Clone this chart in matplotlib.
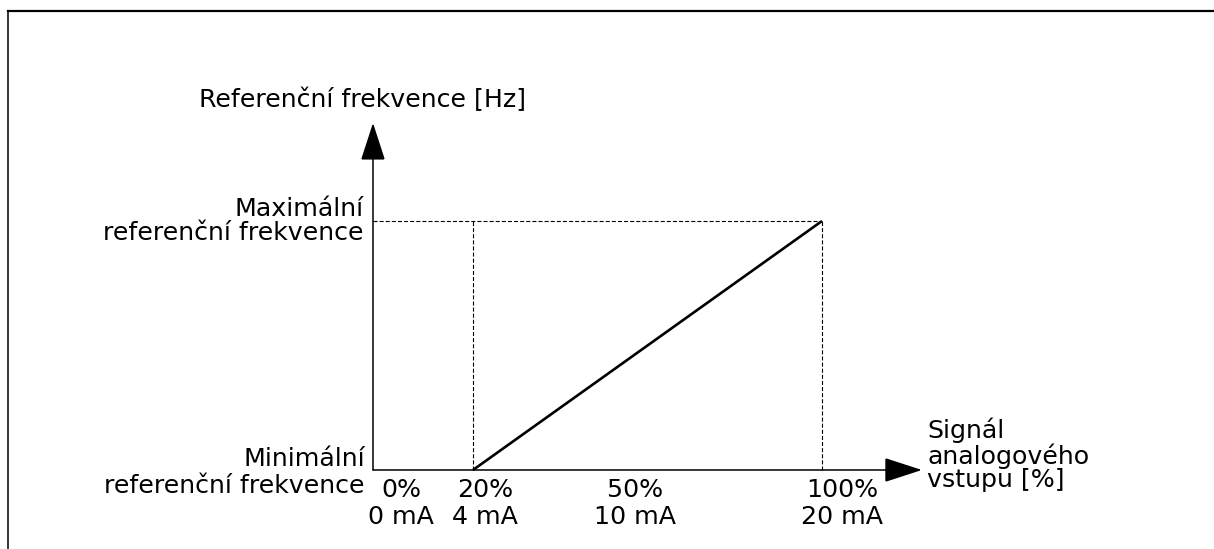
import matplotlib
matplotlib.use("Agg")
import matplotlib.pyplot as plt
from matplotlib.patches import FancyArrowPatch
from matplotlib.lines import Line2D

plt.rcParams['font.family'] = ['DejaVu Sans']
plt.rcParams['lines.scale_dashes'] = False

# ---- data (schematic) ----
signal_pct = [20, 100]          # analog input signal [%]
frequency = [0.0, 1.0]          # 0 = min reference, 1 = max reference
pct_labels = ["0%", "20%", "50%", "100%"]
ma_labels = ["0 mA", "4 mA", "10 mA", "20 mA"]
label_x = [3.5, 22.8, 57.1, 104.6]   # label anchor positions (data units)

y_title = "Referenční frekvence [Hz]"
x_title = "Signál\nanalogového\nvstupu [%]"
max_label = "Maximální\nreferenční frekvence"
min_label = "Minimální\nreferenční frekvence"

W, H = 1214, 549
fig = plt.figure(figsize=(W / 100, H / 100), dpi=100)
ax = fig.add_axes([0, 0, 1, 1])
ax.set_xlim(-88.42, 189.86)
ax.set_ylim(-0.3173, 1.8876)
ax.axis('off')

# frame (left and top edges)
fig.add_artist(Line2D([8 / W, 8 / W], [0, 1 - 11 / H], color='black', lw=1.1,
                      transform=fig.transFigure))
fig.add_artist(Line2D([8 / W, 1], [1 - 11 / H, 1 - 11 / H], color='black', lw=1.6,
                      transform=fig.transFigure))

x0 = -2.92      # origin of the drawn axes
x_end = 122.9
y_end = 1.3936

# axes with arrows
for start, end in [((x0, 0), (x0, y_end)), ((x0, 0), (x_end, 0))]:
    ar = FancyArrowPatch(start, end, arrowstyle='-|>,head_length=24,head_width=7.8',
                         mutation_scale=1, color='black', lw=1.1,
                         shrinkA=0, shrinkB=0, joinstyle='miter')
    ax.add_patch(ar)

# dashed guides
dash = (0, (2.9, 1.5))
ax.plot([signal_pct[0], signal_pct[0]], [frequency[0], frequency[1]], color='black', lw=0.8, linestyle=dash)
ax.plot([signal_pct[1], signal_pct[1]], [frequency[0], frequency[1]], color='black', lw=0.8, linestyle=dash)
ax.plot([x0, signal_pct[1]], [frequency[1], frequency[1]], color='black', lw=0.8, linestyle=dash)

# main characteristic
ax.plot(signal_pct, frequency, color='black', lw=1.9, solid_capstyle='butt')

fs = 18.2
ax.text(-42.8, 1.486, y_title, fontsize=fs, ha='left', va='center')
ax.text(-5.0, 1.0, max_label, fontsize=fs, ha='right', va='center', ma='right', linespacing=1.02)
ax.text(-4.8, -0.01, min_label, fontsize=fs, ha='right', va='center', ma='right', linespacing=1.12)
ax.text(124.1, 0.06, x_title, fontsize=fs, ha='left', va='center', ma='left', linespacing=0.98)

for xl, p, m in zip(label_x, pct_labels, ma_labels):
    ax.text(xl, -0.080, p, fontsize=fs, ha='center', va='center')
    ax.text(xl, -0.189, m, fontsize=fs, ha='center', va='center')

fig.savefig("out.png", dpi=100)
